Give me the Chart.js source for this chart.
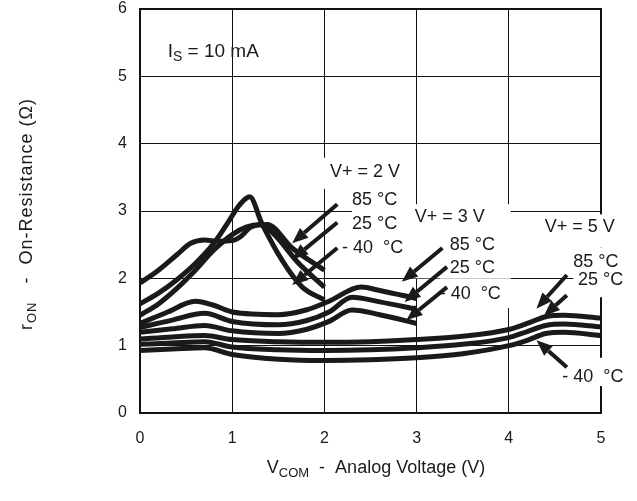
<!DOCTYPE html>
<html>
<head>
<meta charset="utf-8">
<script src="https://cdn.jsdelivr.net/npm/chart.js@4"></script>
<style>
  html, body { margin: 0; padding: 0; background: #fff; }
  #wrap { width: 637px; height: 501px; }
</style>
</head>
<body>
<div id="wrap"><canvas id="ronChart" width="637" height="501"></canvas></div>
<script>
// On-resistance vs. common-mode voltage, three supplies at three temperatures
const xTicks = [0, 1, 2, 3, 4, 5];
const yTicks = [0, 1, 2, 3, 4, 5, 6];

// V+ = 2 V
const v2x85 = [0, 0.2, 0.4, 0.55, 0.7, 0.85, 1.0, 1.1, 1.2, 1.38, 1.65, 2.0];
const v2y85 = [1.93, 2.12, 2.35, 2.52, 2.57, 2.55, 2.56, 2.63, 2.76, 2.80, 2.45, 2.12];
const v2x25 = [0, 0.2, 0.4, 0.6, 0.8, 1.0, 1.15, 1.3, 1.45, 1.71, 2.0];
const v2y25 = [1.45, 1.62, 1.85, 2.12, 2.42, 2.65, 2.76, 2.80, 2.66, 2.24, 1.87];
const v2xM40 = [0, 0.2, 0.4, 0.6, 0.8, 0.95, 1.08, 1.19, 1.32, 1.54, 1.76, 2.0];
const v2yM40 = [1.62, 1.78, 1.98, 2.22, 2.52, 2.82, 3.09, 3.21, 2.82, 2.27, 1.87, 1.68];

// V+ = 3 V
const v3x85 = [0, 0.3, 0.6, 0.8, 1.0, 1.5, 1.8, 2.05, 2.4, 2.6, 3.0];
const v3y85 = [1.33, 1.50, 1.66, 1.60, 1.50, 1.46, 1.53, 1.66, 1.87, 1.82, 1.70];
const v3x = [0, 0.35, 0.7, 1.0, 1.5, 1.8, 2.05, 2.3, 2.6, 3.0];
const v3y25 = [1.27, 1.38, 1.48, 1.36, 1.31, 1.37, 1.50, 1.72, 1.65, 1.54];
const v3yM40 = [1.20, 1.25, 1.30, 1.22, 1.18, 1.24, 1.36, 1.53, 1.46, 1.33];

// V+ = 5 V
const v5x = [0, 0.35, 0.7, 1.0, 1.5, 2.0, 2.5, 3.0, 3.5, 4.0, 4.2, 4.4, 4.6, 5.0];
const v5y85 = [1.10, 1.13, 1.15, 1.09, 1.06, 1.05, 1.06, 1.09, 1.14, 1.24, 1.33, 1.43, 1.45, 1.41];
const v5y25 = [1.02, 1.04, 1.06, 0.98, 0.94, 0.93, 0.94, 0.97, 1.02, 1.12, 1.21, 1.30, 1.32, 1.28];
const v5yM40 = [0.93, 0.95, 0.97, 0.87, 0.80, 0.78, 0.79, 0.82, 0.88, 1.00, 1.08, 1.18, 1.20, 1.15];

const FONT = '"Liberation Sans", Arial, Helvetica, sans-serif';
const INK = '#1a1a1a';

function pts(xs, ys) {
  return xs.map((x, i) => ({ x: x, y: ys[i] }));
}

function curve(label, xs, ys) {
  return {
    label: label,
    data: pts(xs, ys),
    borderColor: INK,
    borderWidth: 5,
    pointRadius: 0,
    fill: false,
    tension: 0.35,
    cubicInterpolationMode: 'monotone',
    borderCapStyle: 'butt',
    borderJoinStyle: 'round',
  };
}

// white boxes behind the callout text (x1, x2, yTop, yBottom in data units)
const knockouts = [
  [1.95, 2.95, 3.79, 3.33],
  [2.30, 2.95, 3.33, 2.30],
  [2.95, 4.02, 3.10, 2.00],
  [3.25, 4.02, 2.00, 1.56],
  [4.38, 5.30, 2.95, 2.46],
  [4.70, 5.30, 2.46, 1.72],
  [4.55, 5.30, 0.82, 0.40],
];

// callout text: [text, x, y] with x at the left edge
const callouts = [
  ['V+ = 2 V', 2.06, 3.58],
  ['85 °C', 2.30, 3.16],
  ['25 °C', 2.30, 2.81],
  ['- 40  °C', 2.19, 2.45],
  ['V+ = 3 V', 2.98, 2.91],
  ['85 °C', 3.36, 2.50],
  ['25 °C', 3.36, 2.15],
  ['- 40  °C', 3.25, 1.77],
  ['V+ = 5 V', 4.39, 2.76],
  ['85 °C', 4.70, 2.24],
  ['25 °C', 4.75, 1.98],
  ['- 40  °C', 4.58, 0.53],
];

// arrows: [fromX, fromY, toX, toY]
const arrows = [
  [2.14, 3.10, 1.65, 2.52],
  [2.14, 2.83, 1.65, 2.28],
  [2.14, 2.45, 1.65, 1.90],
  [3.28, 2.45, 2.84, 1.95],
  [3.33, 2.17, 2.87, 1.65],
  [3.33, 1.87, 2.89, 1.38],
  [4.63, 2.05, 4.30, 1.55],
  [4.63, 1.75, 4.38, 1.44],
  [4.63, 0.68, 4.30, 1.08],
];

function drawArrow(ctx, x1, y1, x2, y2) {
  const ang = Math.atan2(y2 - y1, x2 - x1);
  const headLen = 16, headW = 6.5;
  const bx = x2 - headLen * Math.cos(ang);
  const by = y2 - headLen * Math.sin(ang);
  ctx.beginPath();
  ctx.moveTo(x1, y1);
  ctx.lineTo(bx, by);
  ctx.lineWidth = 4;
  ctx.strokeStyle = INK;
  ctx.stroke();
  ctx.beginPath();
  ctx.moveTo(x2, y2);
  ctx.lineTo(bx + headW * Math.sin(ang), by - headW * Math.cos(ang));
  ctx.lineTo(bx - headW * Math.sin(ang), by + headW * Math.cos(ang));
  ctx.closePath();
  ctx.fillStyle = INK;
  ctx.fill();
}

// text with a subscript part, e.g. I + S
function subText(ctx, x, y, main, sub, rest, size, subScale = 0.72) {
  ctx.font = size + 'px ' + FONT;
  ctx.fillText(main, x, y);
  let w = ctx.measureText(main).width;
  ctx.font = Math.round(size * subScale) + 'px ' + FONT;
  ctx.fillText(sub, x + w, y + size * 0.28);
  w += ctx.measureText(sub).width;
  ctx.font = size + 'px ' + FONT;
  ctx.fillText(rest, x + w, y);
  return w + ctx.measureText(rest).width;
}

function subWidth(ctx, main, sub, rest, size, subScale = 0.72) {
  ctx.font = size + 'px ' + FONT;
  let w = ctx.measureText(main).width + ctx.measureText(rest).width;
  ctx.font = Math.round(size * subScale) + 'px ' + FONT;
  return w + ctx.measureText(sub).width;
}

const framePlugin = {
  id: 'frame',
  beforeDatasetsDraw(chart) {
    const { ctx, chartArea: a } = chart;
    ctx.save();
    ctx.strokeStyle = '#111';
    ctx.lineWidth = 2;
    ctx.strokeRect(a.left, a.top, a.right - a.left, a.bottom - a.top);
    ctx.restore();
  },
};

const calloutPlugin = {
  id: 'callouts',
  afterDatasetsDraw(chart) {
    const { ctx, scales } = chart;
    const sx = scales.x, sy = scales.y;
    ctx.save();
    ctx.fillStyle = '#fff';
    knockouts.forEach(([x1, x2, yt, yb]) => {
      const l = sx.getPixelForValue(x1), r = sx.getPixelForValue(x2);
      const t = sy.getPixelForValue(yt), b = sy.getPixelForValue(yb);
      ctx.fillRect(l, t, r - l, b - t);
    });
    ctx.fillStyle = INK;
    ctx.textBaseline = 'middle';
    ctx.textAlign = 'left';
    ctx.font = '18px ' + FONT;
    callouts.forEach(([t, x, y]) => {
      ctx.fillText(t, sx.getPixelForValue(x), sy.getPixelForValue(y));
    });
    subText(ctx, sx.getPixelForValue(0.30), sy.getPixelForValue(5.36), 'I', 'S', ' = 10 mA', 19, 0.76);
    arrows.forEach(([x1, y1, x2, y2]) => {
      drawArrow(ctx, sx.getPixelForValue(x1), sy.getPixelForValue(y1),
        sx.getPixelForValue(x2), sy.getPixelForValue(y2));
    });
    ctx.restore();
  },
  afterDraw(chart) {
    const { ctx } = chart;
    ctx.save();
    ctx.fillStyle = INK;
    ctx.textBaseline = 'middle';
    ctx.textAlign = 'left';
    // x axis title
    const size = 18;
    const wx = subWidth(ctx, 'V', 'COM', '  -  Analog Voltage (V)', size);
    subText(ctx, 376 - wx / 2, 468, 'V', 'COM', '  -  Analog Voltage (V)', size);
    // y axis title, rotated and slightly tracked out
    ctx.letterSpacing = '1px';
    const wy = subWidth(ctx, 'r', 'ON', '   -  On-Resistance (Ω)', size);
    ctx.translate(27, 214);
    ctx.rotate(-Math.PI / 2);
    subText(ctx, -wy / 2, 0, 'r', 'ON', '   -  On-Resistance (Ω)', size);
    ctx.restore();
  },
};

const allSets = [
  curve('V+ = 2 V, 85 °C', v2x85, v2y85),
  curve('V+ = 2 V, 25 °C', v2x25, v2y25),
  curve('V+ = 2 V, -40 °C', v2xM40, v2yM40),
  curve('V+ = 3 V, 85 °C', v3x85, v3y85),
  curve('V+ = 3 V, 25 °C', v3x, v3y25),
  curve('V+ = 3 V, -40 °C', v3x, v3yM40),
  curve('V+ = 5 V, 85 °C', v5x, v5y85),
  curve('V+ = 5 V, 25 °C', v5x, v5y25),
  curve('V+ = 5 V, -40 °C', v5x, v5yM40),
];

const innerGrid = (ctx) => {
  const v = ctx.tick ? ctx.tick.value : null;
  const ticks = ctx.scale.ticks;
  if (v === ticks[0].value || v === ticks[ticks.length - 1].value) return 'rgba(0,0,0,0)';
  return '#111';
};

// keep tick label overhang from shrinking the plot area
function noLabelPadding(s) {
  s.paddingTop = 0;
  s.paddingBottom = 0;
  s.paddingLeft = 0;
  s.paddingRight = 0;
}

new Chart(document.getElementById('ronChart').getContext('2d'), {
  type: 'line',
  data: { datasets: allSets },
  options: {
    responsive: false,
    animation: false,
    layout: { padding: { left: 0, right: 36, top: 9, bottom: 0 } },
    plugins: { legend: { display: false }, tooltip: { enabled: false } },
    scales: {
      x: {
        type: 'linear',
        min: xTicks[0],
        max: xTicks[xTicks.length - 1],
        afterBuildTicks: (s) => { s.ticks = xTicks.map((v) => ({ value: v })); },
        afterFit: (s) => { s.height = 88; noLabelPadding(s); },
        grid: { color: innerGrid, lineWidth: 1, drawTicks: false },
        border: { display: false },
        ticks: { color: INK, padding: 16, font: { family: FONT, size: 16 } },
      },
      y: {
        type: 'linear',
        min: yTicks[0],
        max: yTicks[yTicks.length - 1],
        afterBuildTicks: (s) => { s.ticks = yTicks.map((v) => ({ value: v })); },
        afterFit: (s) => { s.width = 140; noLabelPadding(s); },
        grid: { color: innerGrid, lineWidth: 1, drawTicks: false },
        border: { display: false },
        ticks: { color: INK, padding: 13, font: { family: FONT, size: 16 } },
      },
    },
  },
  plugins: [framePlugin, calloutPlugin],
});
</script>
</body>
</html>
